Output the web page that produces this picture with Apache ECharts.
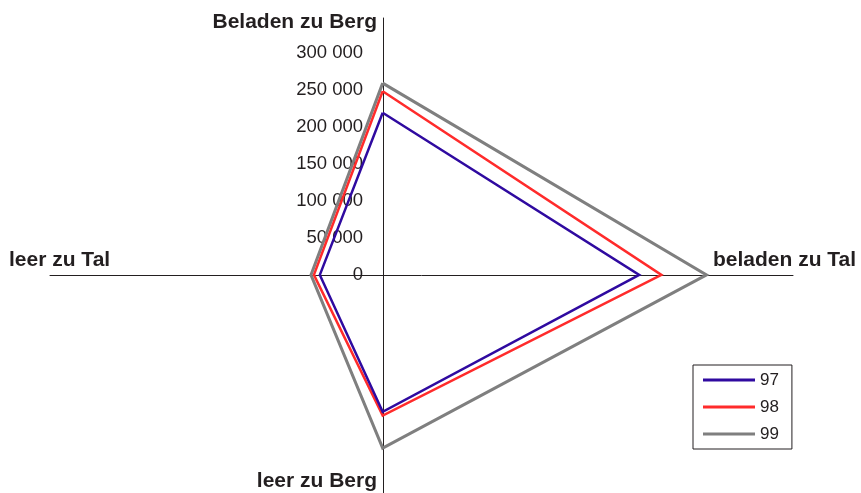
<!DOCTYPE html>
<html>
<head>
<meta charset="utf-8">
<title>Fahrten</title>
<script src="https://cdn.jsdelivr.net/npm/echarts@6/dist/echarts.min.js"></script>
<style>
  html, body { margin: 0; padding: 0; background: #fff; }
  #chart { width: 861px; height: 493px; }
</style>
</head>
<body>
<div id="chart"></div>
<script>
// Reihenfolge: oben, rechts, unten, links
const categories = ['Beladen zu Berg', 'beladen zu Tal', 'leer zu Berg', 'leer zu Tal']
const seriesNames = ['97', '98', '99']
const values97 = [219000, 347000, 185000, 85000]
const values98 = [248000, 377000, 190000, 93000]
const values99 = [259000, 438000, 234000, 97000]
const yTicks = [0, 50000, 100000, 150000, 200000, 250000, 300000]

const colors = ['#2f0aa0', '#ff2b2b', '#7f7f7f']
const font = 'Liberation Sans, Arial, sans-serif'

// die vier Werte auf die Achsen legen (oben, rechts, unten, links) und schliessen
function toPolygon(v) {
  return [[0, v[0]], [v[1], 0], [0, -v[2]], [-v[3], 0], [0, v[0]]]
}

function fmt(value) {
  if (yTicks.indexOf(value) < 0) return ''
  return String(value).replace(/\B(?=(\d{3})+(?!\d))/g, ' ')
}

const chart = echarts.init(document.getElementById('chart'))

const nameStyle = { fontFamily: font, fontWeight: 'bold', fontSize: 21, fill: '#231f20', verticalAlign: 'middle' }

// grid: links 50, rechts 793, oben 18, unten 497 -> Nullpunkt bei (383, 275)
chart.setOption({
  animation: false,
  color: colors,
  grid: { left: 50, right: 68, top: 18, bottom: -4, containLabel: false, outerBoundsMode: 'none' },
  xAxis: {
    type: 'value',
    min: -450000,
    max: 555000,
    position: 'bottom',
    offset: -222,
    splitLine: { show: false },
    axisTick: { show: false },
    axisLabel: { show: false },
    axisLine: { onZero: false, lineStyle: { color: '#231f20', width: 1 } }
  },
  yAxis: {
    type: 'value',
    min: -300000,
    max: 347000,
    interval: 50000,
    position: 'left',
    offset: -333,
    splitLine: { show: false },
    axisTick: { show: false },
    axisLine: { show: true, onZero: false, lineStyle: { color: '#231f20', width: 1 } },
    axisLabel: {
      margin: 20,
      showMaxLabel: false,
      padding: [4, 0, 0, 0],
      color: '#231f20',
      fontFamily: font,
      fontSize: 18.5,
      formatter: fmt
    }
  },
  legend: {
    orient: 'vertical',
    left: 693,
    top: 365,
    padding: [6, 13, 6, 10],
    itemGap: 9,
    itemWidth: 52,
    itemHeight: 3,
    icon: 'rect',
    borderColor: '#231f20',
    borderWidth: 1,
    textStyle: { fontFamily: font, fontSize: 17, color: '#231f20', lineHeight: 18 },
    data: seriesNames
  },
  graphic: [
    { type: 'text', x: 377, y: 22, style: Object.assign({ text: categories[0], align: 'right' }, nameStyle) },
    { type: 'text', x: 713, y: 260, style: Object.assign({ text: categories[1], align: 'left' }, nameStyle) },
    { type: 'text', x: 377, y: 481, style: Object.assign({ text: categories[2], align: 'right' }, nameStyle) },
    { type: 'text', x: 9, y: 260, style: Object.assign({ text: categories[3], align: 'left' }, nameStyle) }
  ],
  series: [values97, values98, values99].map((v, i) => ({
    name: seriesNames[i],
    type: 'line',
    symbol: 'none',
    data: toPolygon(v),
    lineStyle: { width: i === 2 ? 3 : 2.5, join: 'miter' },
    z: 10 - i
  }))
})
</script>
</body>
</html>
